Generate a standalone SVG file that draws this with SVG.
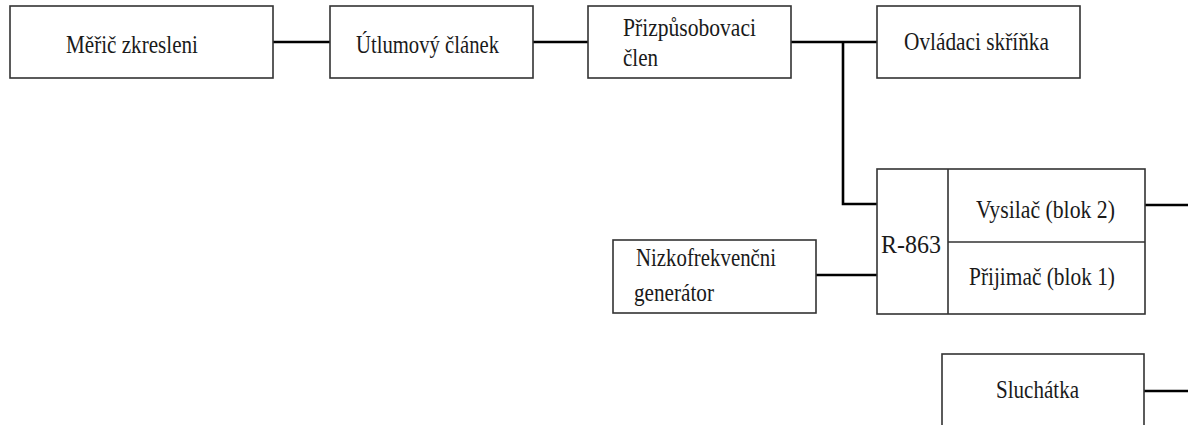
<svg xmlns="http://www.w3.org/2000/svg" width="1188" height="425" viewBox="0 0 1188 425">
<style>
.box{fill:#fff;stroke:#333;stroke-width:1.6}
.div{stroke:#333;stroke-width:1.6;fill:none}
.con{stroke:#000;stroke-width:2.6;fill:none}
text{font-family:"Liberation Serif","Times New Roman",serif;font-size:25px;fill:#1a1a1a}
</style>
<rect width="1188" height="425" fill="#fff"/>
<g id="connectors">
<path class="con" d="M273 42H330"/>
<path class="con" d="M533 42H588"/>
<path class="con" d="M791 42H877"/>
<path class="con" d="M843 42V204H877"/>
<path class="con" d="M816 275H877"/>
<path class="con" d="M1145 205H1188"/>
<path class="con" d="M1144 391H1188"/>
</g>
<g id="n-meric">
<rect class="box" x="10" y="6" width="263" height="72"/>
<text x="66" y="53" textLength="132" lengthAdjust="spacingAndGlyphs">Měřič zkresleni</text>
</g>
<g id="n-utlum">
<rect class="box" x="330" y="6" width="203" height="72"/>
<text x="356" y="53" textLength="143" lengthAdjust="spacingAndGlyphs">Útlumový článek</text>
</g>
<g id="n-prizp">
<rect class="box" x="588" y="6" width="203" height="72"/>
<text x="623" y="36" textLength="133" lengthAdjust="spacingAndGlyphs">Přizpůsobovaci</text>
<text x="623" y="66" textLength="35" lengthAdjust="spacingAndGlyphs">člen</text>
</g>
<g id="n-ovladaci">
<rect class="box" x="877" y="6" width="203" height="72"/>
<text x="904" y="50" textLength="145" lengthAdjust="spacingAndGlyphs">Ovládaci skříňka</text>
</g>
<g id="n-r863">
<rect class="box" x="877" y="169" width="268" height="145"/>
<path class="div" d="M948 169V314M948 242H1145"/>
<text x="881" y="253" textLength="60" lengthAdjust="spacingAndGlyphs">R-863</text>
<text x="976" y="218" textLength="139" lengthAdjust="spacingAndGlyphs">Vysilač (blok 2)</text>
<text x="969" y="285" textLength="146" lengthAdjust="spacingAndGlyphs">Přijimač (blok 1)</text>
</g>
<g id="n-nizko">
<rect class="box" x="613" y="240" width="203" height="73"/>
<text x="636" y="266" textLength="140" lengthAdjust="spacingAndGlyphs">Nizkofrekvenčni</text>
<text x="634" y="301" textLength="80" lengthAdjust="spacingAndGlyphs">generátor</text>
</g>
<g id="n-sluchatka">
<rect class="box" x="942" y="354" width="202" height="90"/>
<text x="996" y="398" textLength="83" lengthAdjust="spacingAndGlyphs">Sluchátka</text>
</g>
</svg>
